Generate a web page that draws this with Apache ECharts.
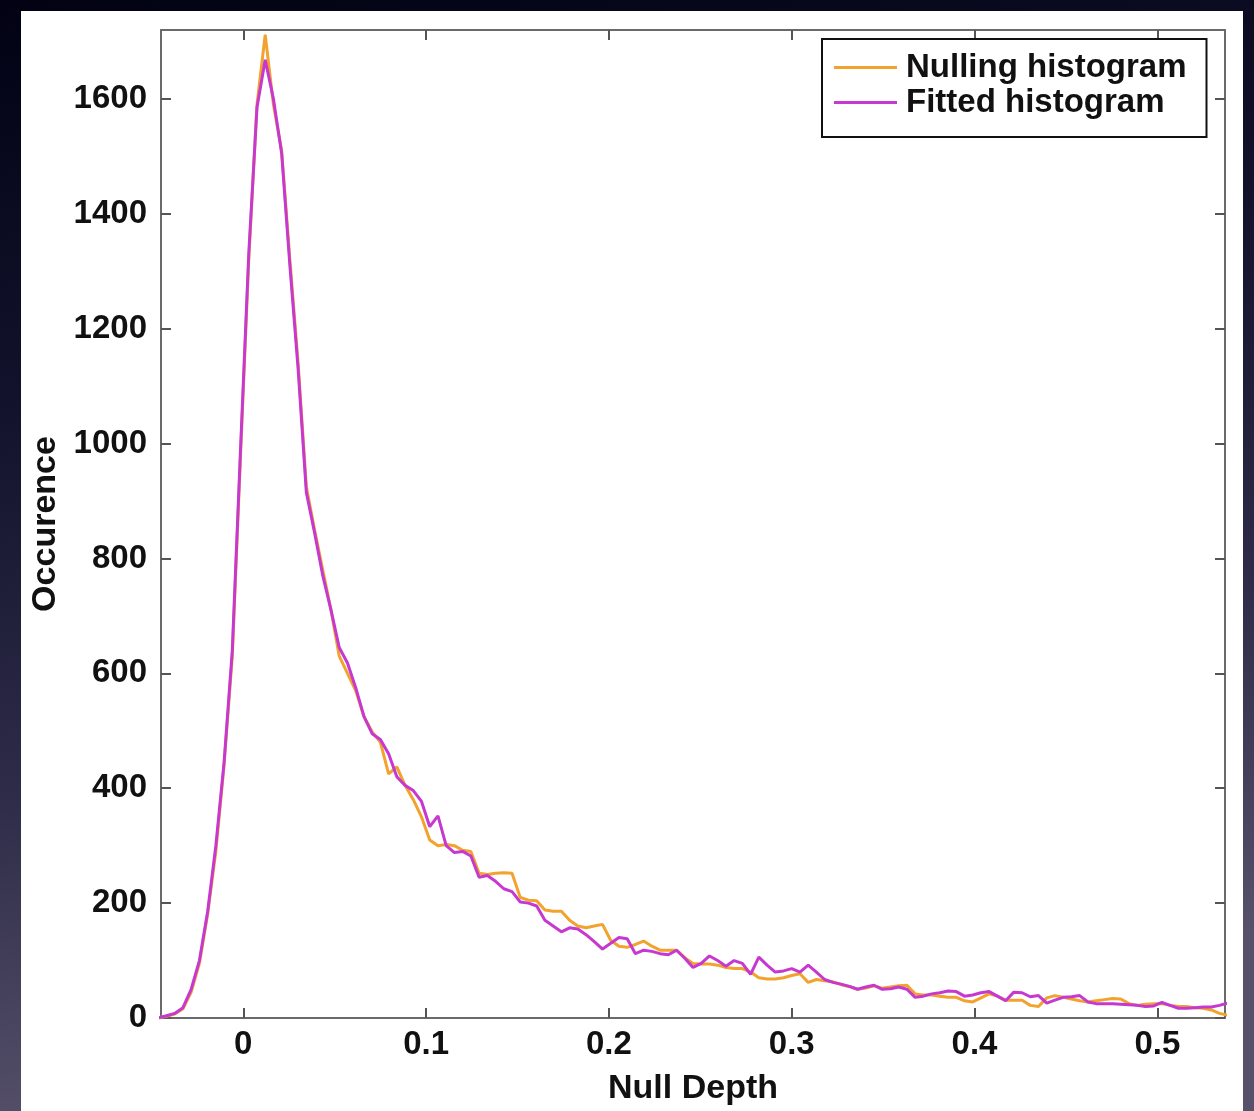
<!DOCTYPE html>
<html>
<head>
<meta charset="utf-8">
<script src="https://cdn.jsdelivr.net/npm/echarts@6/dist/echarts.min.js"></script>
<style>
html,body{margin:0;padding:0;width:1254px;height:1111px;overflow:hidden;}
#chart{width:1254px;height:1111px;}
</style>
</head>
<body>
<div id="chart"></div>
<script>
// Histogram bins (null depth): first bin centre and bin width
const binStart = -0.0465;
const binWidth = 0.0045;

// Measured histogram (orange)
const nullingHist = [
  0, 3, 7, 16, 45, 95, 180, 290, 440, 630,
  980, 1320, 1590, 1712, 1590, 1510, 1320, 1140, 925, 850,
  780, 710, 630, 600, 570, 525, 498, 480, 425, 437,
  405, 380, 350, 310, 300, 302, 300, 292, 290, 252,
  250, 252, 253, 252, 210, 205, 204, 188, 186, 186,
  170, 160, 157, 160, 163, 135, 125, 123, 128, 134,
  125, 118, 118, 118, 105, 95, 94, 94, 92, 88,
  86, 86, 80, 70, 68, 68, 70, 74, 77, 62,
  67, 65, 63, 58, 55, 50, 52, 56, 52, 54,
  56, 57, 42, 40, 40, 38, 36, 36, 30, 28,
  35, 42, 38, 31, 31, 31, 22, 20, 35, 39,
  36, 33, 30, 28, 30, 32, 34, 33, 25, 22,
  24, 25, 25, 22, 20, 20, 18, 17, 14, 8,
  5
];

// Fitted histogram (magenta)
const fittedHist = [
  0, 4, 8, 18, 50, 100, 185, 300, 445, 640,
  990, 1330, 1585, 1668, 1600, 1505, 1310, 1130, 915, 845,
  770, 710, 645, 618, 575, 525, 495, 485, 460, 420,
  405, 396, 377, 333, 352, 300, 288, 290, 282, 245,
  248, 238, 225, 220, 202, 200, 195, 170, 160, 150,
  157, 155, 145, 133, 120, 130, 140, 138, 112, 118,
  116, 112, 110, 118, 104, 88, 95, 108, 100, 90,
  100, 95, 76, 106, 92, 80, 82, 86, 80, 92,
  80, 67, 62, 59, 55, 50, 54, 57, 50, 51,
  54, 50, 36, 38, 42, 44, 47, 46, 38, 40,
  44, 46, 38, 30, 45, 44, 37, 39, 26, 31,
  36, 37, 39, 28, 25, 25, 25, 24, 23, 22,
  20, 21, 27, 22, 17, 17, 18, 19, 19, 22,
  26
];

const xTicks = [0, 0.1, 0.2, 0.3, 0.4, 0.5];
const yTicks = [0, 200, 400, 600, 800, 1000, 1200, 1400, 1600];
const seriesNames = ['Nulling histogram', 'Fitted histogram'];

const bins = nullingHist.map((_, i) => +(binStart + binWidth * i).toFixed(5));
const toPairs = arr => arr.map((v, i) => [bins[i], v]);

const FONT = '"Liberation Sans", Arial, Helvetica, sans-serif';
const axisGray = '#6a6a6a';
const orange = '#f2a32e';
const magenta = '#c638d0';

const chart = echarts.init(document.getElementById('chart'), null, {renderer: 'canvas'});

const tickCommon = {
  show: true, inside: true, length: 10,
  lineStyle: {color: '#555', width: 2}
};

chart.setOption({
  animation: false,
  backgroundColor: {
    type: 'linear', x: 0, y: 0, x2: 0.15, y2: 1,
    colorStops: [
      {offset: 0, color: '#020214'},
      {offset: 0.35, color: '#12122c'},
      {offset: 0.7, color: '#2e2c48'},
      {offset: 1, color: '#57516b'}
    ]
  },
  graphic: [{
    type: 'rect', z: -10, silent: true,
    shape: {x: 21, y: 11, width: 1222, height: 1110},
    style: {fill: '#ffffff'}
  }],
  grid: {left: 161, top: 30, width: 1064, height: 991, containLabel: false},
  legend: {
    left: 822, top: 39,
    orient: 'vertical',
    data: [
      {name: seriesNames[0], icon: 'rect', itemStyle: {color: orange}},
      {name: seriesNames[1], icon: 'rect', itemStyle: {color: magenta}}
    ],
    backgroundColor: '#ffffff',
    borderColor: '#111',
    borderWidth: 2,
    borderRadius: 0,
    padding: [12, 20, 18, 12],
    itemWidth: 63, itemHeight: 3, itemGap: 2,
    textStyle: {fontFamily: FONT, fontSize: 33, fontWeight: 'bold', color: '#111', lineHeight: 33, padding: [0, 0, 0, 4]}
  },
  xAxis: [{
    type: 'value', position: 'bottom',
    min: -0.045, max: 0.537,
    name: 'Null Depth', nameLocation: 'middle', nameGap: 54,
    nameTextStyle: {fontFamily: FONT, fontSize: 34, fontWeight: 'bold', color: '#111'},
    axisLine: {show: true, onZero: false, lineStyle: {color: axisGray, width: 2}},
    axisTick: Object.assign({customValues: xTicks}, tickCommon),
    axisLabel: {customValues: xTicks, margin: 10, fontFamily: FONT, fontSize: 33, fontWeight: 'bold', color: '#111',
      formatter: v => String(v)},
    splitLine: {show: false}
  }, {
    type: 'value', position: 'top',
    min: -0.045, max: 0.537,
    axisLine: {show: true, onZero: false, lineStyle: {color: axisGray, width: 2}},
    axisTick: Object.assign({customValues: xTicks}, tickCommon),
    axisLabel: {show: false},
    splitLine: {show: false}
  }],
  yAxis: [{
    type: 'value', position: 'left',
    min: 0, max: 1720,
    name: 'Occurence', nameLocation: 'middle', nameGap: 97, nameRotate: 90,
    nameTextStyle: {fontFamily: FONT, fontSize: 34, fontWeight: 'bold', color: '#111'},
    axisLine: {show: true, onZero: false, lineStyle: {color: axisGray, width: 2}},
    axisTick: Object.assign({customValues: yTicks}, tickCommon),
    axisLabel: {customValues: yTicks, margin: 14, fontFamily: FONT, fontSize: 33, fontWeight: 'bold', color: '#111',
      formatter: v => String(v)},
    splitLine: {show: false}
  }, {
    type: 'value', position: 'right',
    min: 0, max: 1720,
    axisLine: {show: true, onZero: false, lineStyle: {color: axisGray, width: 2}},
    axisTick: Object.assign({customValues: yTicks}, tickCommon),
    axisLabel: {show: false},
    splitLine: {show: false}
  }],
  series: [{
    name: seriesNames[0], type: 'line',
    xAxisIndex: 0, yAxisIndex: 0,
    data: toPairs(nullingHist),
    symbol: 'none', clip: true,
    lineStyle: {color: orange, width: 3},
    itemStyle: {color: orange}
  }, {
    name: seriesNames[1], type: 'line',
    xAxisIndex: 0, yAxisIndex: 0,
    data: toPairs(fittedHist),
    symbol: 'none', clip: true,
    lineStyle: {color: magenta, width: 3},
    itemStyle: {color: magenta}
  }]
});
</script>
</body>
</html>
